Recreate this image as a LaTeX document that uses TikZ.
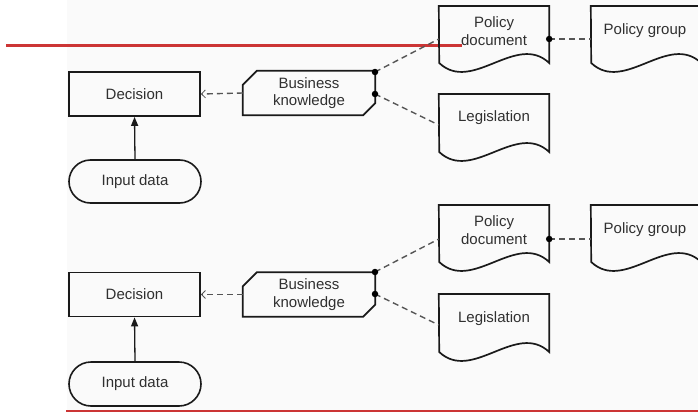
\documentclass[tikz,border=0pt]{standalone}
\usepackage{fontspec}
\setmainfont{Liberation Sans}
\usetikzlibrary{arrows.meta,shapes.misc}
\definecolor{lineC}{HTML}{1A1A1A}
\definecolor{dashC}{HTML}{555555}
\definecolor{textC}{HTML}{303030}
\definecolor{redC}{HTML}{CC3535}
\definecolor{bgC}{HTML}{FAFAFA}
\tikzset{
  lbl/.style={font=\fontsize{15pt}{17.5pt}\selectfont, text=textC, align=center, inner sep=0pt},
  box/.style={lbl, draw=lineC, line width=1.8pt, rectangle},
  pill/.style={lbl, draw=lineC, line width=1.6pt, rounded rectangle},
  plain/.style={lbl, draw=none, rectangle},
  outline/.style={draw=lineC, line width=1.7pt, line join=miter},
  dep/.style={draw=dashC, line width=1.4pt, dash pattern=on 6pt off 4pt},
  infl/.style={draw=lineC, line width=1.3pt, -{Triangle[length=9pt,width=7pt]}},
  dot/.style={circle, fill=black, inner sep=0pt, minimum size=6.5pt},
}
\newcommand\docoutline[2]{% name, side height
  \draw[outline] (#1.north west) -- (#1.north east) -- ++(0,#2)
    .. controls +(-33,-31) and +(33,31) .. ++(-110,0) -- cycle;}
\newcommand\bkoutline[1]{%
  \draw[outline] ([xshift=14pt]#1.north west) -- (#1.north east) -- ([yshift=12pt]#1.south east)
    -- ([xshift=-12pt]#1.south east) -- (#1.south west) -- ([yshift=-14pt]#1.north west) -- cycle;}
\begin{document}
\begin{tikzpicture}[x=1pt,y=-1pt]
\useasboundingbox (0,0) rectangle (698,412);
\clip (0,0) rectangle (698,412);
\fill[bgC] (67,0) rectangle (698,411);
\draw[redC, line width=3pt] (6,46) -- (462,46);
\draw[redC, line width=1.6pt] (66,410.8) -- (698,410.8);

% ---- upper diagram ----
\node[box, minimum width=131pt, minimum height=44pt] (dec1) at (134.5,94) {Decision};
\node[pill, minimum width=132pt, minimum height=43pt] (in1) at (135,181.5) {Input data};
\node[plain, minimum width=132pt, minimum height=44pt] (bk1) at (309,93) {Business\\knowledge};
\bkoutline{bk1}
\node[plain, minimum width=110pt, minimum height=57pt, anchor=north] (pd1) at (494,6) {};
\node[lbl] (pdt1) at (494,31) {Policy\\document};
\docoutline{pd1}{57}
\node[plain, minimum width=110pt, minimum height=57pt, anchor=north] (pg1) at (646,6) {};
\node[lbl] (pgt1) at (645,31) {Policy group};
\docoutline{pg1}{57}
\node[plain, minimum width=110pt, minimum height=58pt, anchor=north] (lg1) at (494,94) {};
\node[lbl] (lgt1) at (494,118) {Legislation};
\docoutline{lg1}{58}
\coordinate (bkd1) at (375,72);
\coordinate (bke1) at (375,94);
\draw[infl] (in1.north) -- (dec1.south);
\draw[dep, -{Straight Barb[length=4pt,width=8pt,line width=0.8pt]}] (bk1.west) -- (dec1.east);
\draw[dep] (bkd1) -- ([yshift=-33pt]pd1.north west);
\draw[dep] (bke1) -- ([yshift=-31pt]lg1.north west);
\draw[dep] ([yshift=-33pt]pd1.north east) -- ([yshift=-33pt]pg1.north west);
\node[dot] at (bkd1) {};
\node[dot] at (bke1) {};
\node[dot] at ([yshift=-33pt]pd1.north east) {};

% ---- lower diagram ----
\node[box, minimum width=131pt, minimum height=44pt] (dec2) at (134.5,294.5) {Decision};
\node[pill, minimum width=132pt, minimum height=44pt] (in2) at (135,384) {Input data};
\node[plain, minimum width=132pt, minimum height=44pt] (bk2) at (309,294.5) {Business\\knowledge};
\bkoutline{bk2}
\node[plain, minimum width=110pt, minimum height=57pt, anchor=north] (pd2) at (494,205) {};
\node[lbl] (pdt2) at (494,230) {Policy\\document};
\docoutline{pd2}{57}
\node[plain, minimum width=110pt, minimum height=57pt, anchor=north] (pg2) at (646,205) {};
\node[lbl] (pgt2) at (645,230) {Policy group};
\docoutline{pg2}{57}
\node[plain, minimum width=110pt, minimum height=58pt, anchor=north] (lg2) at (494,294) {};
\node[lbl] (lgt2) at (494,319) {Legislation};
\docoutline{lg2}{58}
\coordinate (bkd2) at (375,272);
\coordinate (bke2) at (375,294);
\draw[infl] (in2.north) -- (dec2.south);
\draw[dep, -{Straight Barb[length=4pt,width=8pt,line width=0.8pt]}] (bk2.west) -- (dec2.east);
\draw[dep] (bkd2) -- ([yshift=-34pt]pd2.north west);
\draw[dep] (bke2) -- ([yshift=-31pt]lg2.north west);
\draw[dep] ([yshift=-34pt]pd2.north east) -- ([yshift=-34pt]pg2.north west);
\node[dot] at (bkd2) {};
\node[dot] at (bke2) {};
\node[dot] at ([yshift=-34pt]pd2.north east) {};
\end{tikzpicture}
\end{document}
